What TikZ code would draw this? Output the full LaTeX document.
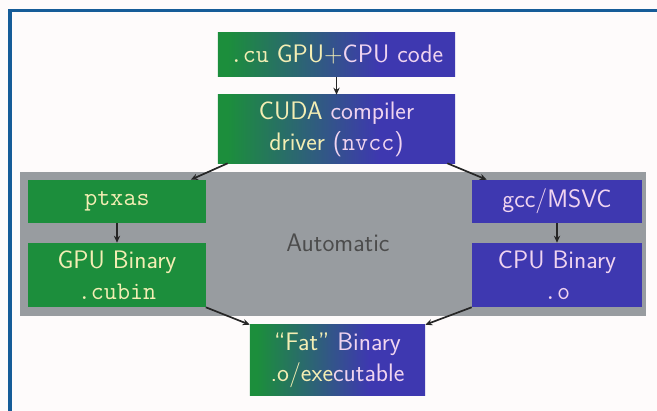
\documentclass[tikz,border=0pt]{standalone}
\usepackage{tikz}
\usetikzlibrary{arrows.meta}
\definecolor{cudagreen}{RGB}{28, 142, 60}
\definecolor{cudablue}{RGB}{62, 56, 176}
\definecolor{autogray}{RGB}{152, 156, 160}
\definecolor{frameblue}{RGB}{22, 92, 152}
\definecolor{paper}{RGB}{254, 251, 251}
\definecolor{txtgreen}{RGB}{244, 238, 180}
\definecolor{txtblue}{RGB}{240, 212, 240}
\newcommand{\gtext}[1]{\textcolor{txtgreen}{#1}}
\newcommand{\btext}[1]{\textcolor{txtblue}{#1}}
\pgfdeclarehorizontalshading{cudamix}{100bp}{color(0bp)=(cudagreen); color(27bp)=(cudagreen);
    color(59bp)=(cudablue); color(100bp)=(cudablue)}

\begin{document}
\begin{tikzpicture}[x=0.025cm, y=-0.025cm,
    every node/.style={font=\sffamily\fontsize{18}{22}\selectfont, inner sep=0pt, align=center},
    gpubox/.style={fill=cudagreen, text=txtgreen},
    cpubox/.style={fill=cudablue, text=txtblue},
    mixbox/.style={shading=cudamix},
    flow/.style={-{Stealth[length=5pt, width=4.5pt]}, line width=1.2pt, black!85}]
    % Page and frame
    \useasboundingbox (0,0) rectangle (657,411);
    \clip (0,0) rectangle (657,411);
    \fill[paper] (0,0) rectangle (657,411);
    \draw[frameblue, line width=0.075cm] (10,440) -- (10,11) -- (690,11);

    % Automatic region
    \fill[autogray] (20,172) rectangle (646,316);
    \node[text=black!70] (auto) at (338,243) {Automatic};

    % Boxes
    \node[mixbox, minimum width=5.925cm, minimum height=1.1cm] (src) at (336.5,55)
        {\gtext{\texttt{.cu} GPU+}\btext{CPU code}};
    \node[mixbox, minimum width=5.925cm, minimum height=1.7cm] (nvcc) at (336.5,129)
        {\gtext{CUDA} \btext{compiler}\\ \gtext{driver} \btext{(\texttt{nvcc})}};
    \node[gpubox, minimum width=4.425cm, minimum height=1.075cm] (ptxas) at (117,201.5) {\texttt{ptxas}};
    \node[gpubox, minimum width=4.425cm, minimum height=1.6cm] (gpubin) at (117,275) {GPU Binary\\ \texttt{.cubin}};
    \node[cpubox, minimum width=4.25cm, minimum height=1.075cm] (gcc) at (557,201.5) {gcc/MSVC};
    \node[cpubox, minimum width=4.25cm, minimum height=1.6cm] (cpubin) at (557,275) {CPU Binary\\ \texttt{.o}};
    \node[mixbox, minimum width=4.375cm, minimum height=1.75cm] (fat) at (337.5,360)
        {\gtext{``Fat''} \btext{Binary}\\ \gtext{.o/exe}\btext{cutable}};

    % Connectors
    \draw[flow] (src) -- (nvcc);
    \draw[flow] ([xshift=0.25cm]nvcc.south west) -- ([xshift=-0.375cm]ptxas.north east);
    \draw[flow] ([xshift=-0.2cm]nvcc.south east) -- ([xshift=0.375cm]gcc.north west);
    \draw[flow] (ptxas) -- (gpubin);
    \draw[flow] (gcc) -- (cpubin);
    \draw[flow] (gpubin.south east) -- (fat.north west);
    \draw[flow] (cpubin.south west) -- (fat.north east);
\end{tikzpicture}
\end{document}
